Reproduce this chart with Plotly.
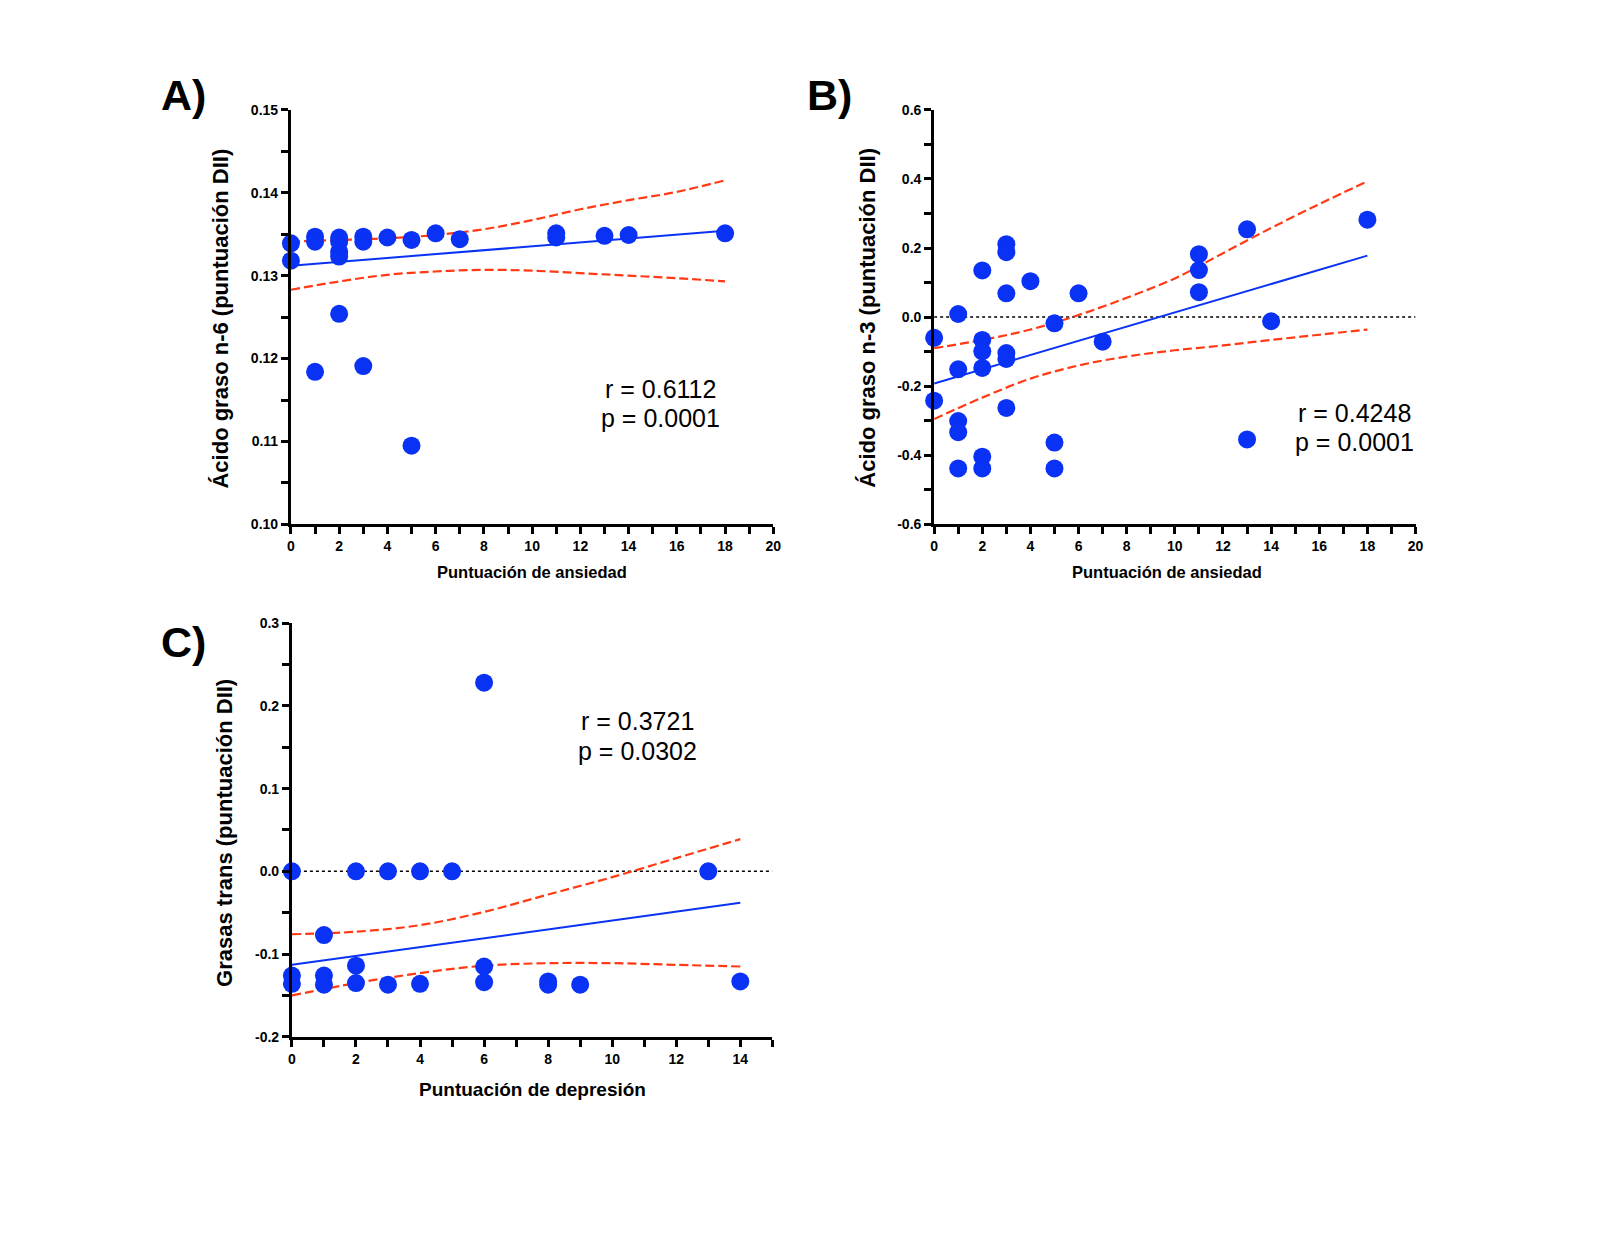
import plotly.graph_objects as go

W, H = 1624, 1255

# ---- Panel A: n-6 vs anxiety score ----
a_x = [0, 0, 1, 1, 1, 2, 2, 2, 2, 2, 3, 3, 3, 4, 5, 5, 6, 7, 11, 11, 13, 14, 18]
a_y = [0.1339, 0.1318, 0.1347, 0.1341, 0.1184, 0.1346, 0.1341, 0.1329, 0.1323, 0.1254,
       0.1347, 0.1341, 0.1191, 0.1346, 0.1343, 0.1095, 0.1351, 0.1344, 0.1351, 0.1346,
       0.1348, 0.1349, 0.1351]
a_fit_x = [0, 18]
a_fit_y = [0.1312, 0.1354]
a_ci_x = [0, 2, 4, 6, 8, 10, 12, 14, 16, 18]
a_ci_hi = [0.1341, 0.1343, 0.1345, 0.1349, 0.1356, 0.1367, 0.1380, 0.1391, 0.1401, 0.1415]
a_ci_lo = [0.1283, 0.1293, 0.1301, 0.1305, 0.1307, 0.1306, 0.1303, 0.1300, 0.1297, 0.1293]
a_yticks = [0.10, 0.11, 0.12, 0.13, 0.14, 0.15]
a_ylabels = ["0.10", "0.11", "0.12", "0.13", "0.14", "0.15"]

# ---- Panel B: n-3 vs anxiety score ----
b_x = [0, 0, 1, 1, 1, 1, 1, 2, 2, 2, 2, 2, 2, 3, 3, 3, 3, 3, 3, 4, 5, 5, 5, 6, 7,
       11, 11, 11, 13, 13, 14, 18]
b_y = [-0.060, -0.242, 0.009, -0.151, -0.301, -0.333, -0.438, 0.135, -0.066, -0.099,
       -0.147, -0.404, -0.438, 0.211, 0.188, 0.069, -0.104, -0.121, -0.263, 0.104,
       -0.018, -0.363, -0.438, 0.069, -0.071, 0.182, 0.136, 0.072, 0.254, -0.354,
       -0.012, 0.282]
b_fit_x = [0, 18]
b_fit_y = [-0.192, 0.178]
b_ci_x = [0, 2, 4, 6, 8, 10, 12, 14, 16, 18]
b_ci_hi = [-0.090, -0.066, -0.036, 0.006, 0.056, 0.112, 0.185, 0.258, 0.327, 0.393]
b_ci_lo = [-0.295, -0.233, -0.178, -0.140, -0.114, -0.096, -0.082, -0.066, -0.051, -0.036]
b_yticks = [-0.6, -0.4, -0.2, 0.0, 0.2, 0.4, 0.6]
b_ylabels = ["-0.6", "-0.4", "-0.2", "0.0", "0.2", "0.4", "0.6"]

# ---- Panel C: trans fats vs depression score ----
c_x = [0, 0, 0, 1, 1, 1, 2, 2, 2, 3, 3, 4, 4, 5, 6, 6, 6, 8, 8, 9, 13, 14]
c_y = [0.0, -0.126, -0.136, -0.077, -0.126, -0.137, 0.0, -0.114, -0.135, 0.0, -0.137,
       0.0, -0.136, 0.0, 0.228, -0.115, -0.134, -0.133, -0.137, -0.137, 0.0, -0.133]
c_fit_x = [0, 14]
c_fit_y = [-0.113, -0.038]
c_ci_x = [0, 2, 4, 6, 8, 10, 12, 14]
c_ci_hi = [-0.076, -0.073, -0.065, -0.049, -0.028, -0.007, 0.016, 0.039]
c_ci_lo = [-0.150, -0.135, -0.123, -0.114, -0.111, -0.111, -0.113, -0.115]
c_yticks = [-0.2, -0.1, 0.0, 0.1, 0.2, 0.3]
c_ylabels = ["-0.2", "-0.1", "0.0", "0.1", "0.2", "0.3"]

BLUE = "#0a32f5"
RED = "#ff3a14"
FONT = "Liberation Sans, Arial, sans-serif"
OFF = 8  # page body margin pushes the figure 8px right/down


def px_x(p):
    return (p - OFF) / W


def px_y(p):
    return 1 - (p - OFF) / H


fig = go.Figure()


def add_panel(n, xs, ys, fx, fy, cx, chi, clo, zero_to=None):
    xa = "x" if n == 1 else f"x{n}"
    ya = "y" if n == 1 else f"y{n}"
    if zero_to is not None:
        fig.add_trace(go.Scatter(x=[0, zero_to], y=[0, 0], mode="lines", xaxis=xa, yaxis=ya,
                                 line=dict(color="black", width=1.5, dash="dot"),
                                 showlegend=False, hoverinfo="skip"))
    for cy in (chi, clo):
        fig.add_trace(go.Scatter(x=cx, y=cy, mode="lines", xaxis=xa, yaxis=ya,
                                 line=dict(color=RED, width=2.2, dash="9px,4px", shape="spline"),
                                 showlegend=False))
    fig.add_trace(go.Scatter(x=fx, y=fy, mode="lines", xaxis=xa, yaxis=ya,
                             line=dict(color=BLUE, width=2), showlegend=False))
    fig.add_trace(go.Scatter(x=xs, y=ys, mode="markers", xaxis=xa, yaxis=ya, cliponaxis=False,
                             marker=dict(color=BLUE, size=18), showlegend=False))


add_panel(1, a_x, a_y, a_fit_x, a_fit_y, a_ci_x, a_ci_hi, a_ci_lo)
add_panel(2, b_x, b_y, b_fit_x, b_fit_y, b_ci_x, b_ci_hi, b_ci_lo, zero_to=20)
add_panel(3, c_x, c_y, c_fit_x, c_fit_y, c_ci_x, c_ci_hi, c_ci_lo, zero_to=15)

tickfont = dict(family=FONT, size=14, color="black", weight="bold")
minor_ticks = dict(ticks="outside", ticklen=7, tickwidth=2.5, tickcolor="black")
common = dict(showline=True, linewidth=3, linecolor="black", ticks="outside", ticklen=7,
              tickwidth=2.5, tickcolor="black", showgrid=False, zeroline=False,
              tickfont=tickfont, mirror=False)


def xax(dom, rng, anchor):
    return dict(common, domain=dom, range=rng, anchor=anchor, dtick=2, tick0=0,
                minor=dict(minor_ticks, dtick=1))


def yax(dom, rng, anchor, vals, labels, minor):
    return dict(common, domain=dom, range=rng, anchor=anchor, tickmode="array",
                tickvals=vals, ticktext=labels,
                minor=dict(minor_ticks, tickmode="linear", tick0=rng[0], dtick=minor))


fig.update_layout(
    width=W, height=H,
    margin=dict(l=0, r=0, t=0, b=0),
    plot_bgcolor="white", paper_bgcolor="white",
    font=dict(family=FONT, color="black"),
    xaxis=xax([px_x(289), px_x(775)], [0, 20], "y"),
    yaxis=yax([px_y(523), px_y(103)], [0.10, 0.15], "x", a_yticks, a_ylabels, 0.005),
    xaxis2=xax([px_x(937), px_x(1422)], [0, 20], "y2"),
    yaxis2=yax([px_y(523), px_y(103)], [-0.6, 0.6], "x2", b_yticks, b_ylabels, 0.1),
    xaxis3=xax([px_x(290), px_x(774)], [0, 15], "y3"),
    yaxis3=yax([px_y(1042), px_y(623)], [-0.2, 0.3], "x3", c_yticks, c_ylabels, 0.05),
)

texts = [
    # panel labels
    ("A)", 181, 88, 43, True, 0),
    ("B)", 832, 88, 43, True, 0),
    ("C)", 181, 642, 43, True, 0),
    # axis titles
    ("Puntuación de ansiedad", 532, 571, 16.5, True, 0),
    ("Puntuación de ansiedad", 1172, 571, 16.5, True, 0),
    ("Puntuación de depresión", 532, 1095, 19, True, 0),
    ("Ácido graso n-6 (puntuación DII)", 218, 314, 22, True, -90),
    ("Ácido graso n-3 (puntuación DII)", 869, 314, 22, True, -90),
    ("Grasas trans (puntuación DII)", 222, 835, 22, True, -90),
    # stats
    ("r = 0.6112", 661, 386, 25, False, 0),
    ("p = 0.0001", 661, 415, 25, False, 0),
    ("r = 0.4248", 1360, 410, 25, False, 0),
    ("p = 0.0001", 1360, 440, 25, False, 0),
    ("r = 0.3721", 638, 722, 25, False, 0),
    ("p = 0.0302", 638, 752, 25, False, 0),
]
for t, x, y, size, bold, ang in texts:
    fig.add_annotation(text=f"<b>{t}</b>" if bold else t, x=px_x(x), y=px_y(y),
                       xref="paper", yref="paper", showarrow=False, textangle=ang,
                       xanchor="center", yanchor="middle",
                       font=dict(family=FONT, size=size, color="black"))

fig.write_html("out.html")
